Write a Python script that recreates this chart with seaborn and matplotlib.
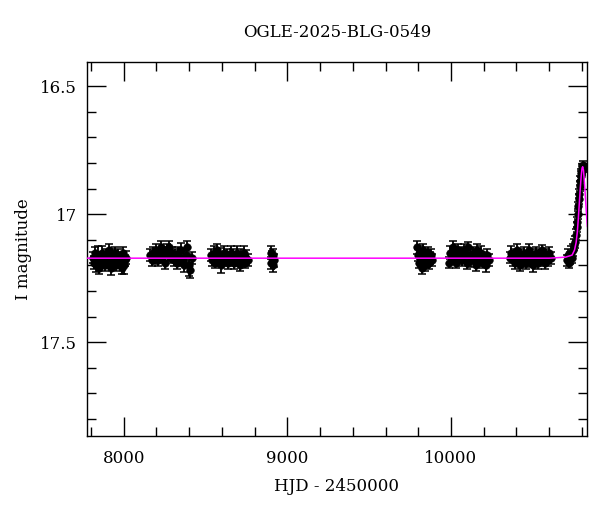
import numpy as np
import pandas as pd
import matplotlib
matplotlib.use("Agg")
import matplotlib.pyplot as plt
from matplotlib.ticker import MultipleLocator, FormatStrFormatter
import seaborn as sns

# --------------------------
# Photometry (HJD - 2450000, I mag, error)
# --------------------------
s1_hjd = [7812, 7818, 7825, 7831, 7838, 7844, 7851, 7857, 7864, 7870, 7877, 7883, 7890, 7896, 7903, 7909,
          7916, 7922, 7929, 7935, 7942, 7948, 7955, 7961, 7968, 7974, 7981, 7987, 7994, 8000, 8007, 8013]
s1_mag = [17.17, 17.19, 17.15, 17.20, 17.18, 17.16, 17.21, 17.17, 17.19, 17.15, 17.18, 17.20, 17.16, 17.19, 17.17, 17.14,
          17.18, 17.21, 17.16, 17.19, 17.17, 17.15, 17.20, 17.18, 17.16, 17.19, 17.17, 17.21, 17.15, 17.20, 17.18, 17.17]
s1_err = [0.022, 0.025, 0.021, 0.024, 0.023, 0.035, 0.022, 0.024, 0.021, 0.026, 0.023, 0.022, 0.025, 0.021, 0.024, 0.023,
          0.022, 0.027, 0.024, 0.021, 0.025, 0.023, 0.022, 0.026, 0.024, 0.021, 0.023, 0.025, 0.022, 0.035, 0.021, 0.026]

s2_hjd = [8163, 8172, 8181, 8190, 8199, 8208, 8217, 8226, 8235, 8244, 8253, 8262, 8271, 8280, 8289,
          8298, 8307, 8316, 8325, 8334, 8343, 8352, 8361, 8370, 8379, 8388, 8397, 8406, 8415]
s2_mag = [17.16, 17.18, 17.15, 17.17, 17.14, 17.18, 17.16, 17.13, 17.17, 17.15, 17.19, 17.14, 17.16, 17.13, 17.17,
          17.15, 17.18, 17.16, 17.19, 17.15, 17.17, 17.14, 17.18, 17.20, 17.16, 17.13, 17.20, 17.22, 17.17]
s2_err = [0.022, 0.024, 0.021, 0.025, 0.023, 0.022, 0.026, 0.024, 0.021, 0.023, 0.025, 0.022, 0.024, 0.027, 0.021,
          0.023, 0.022, 0.025, 0.024, 0.021, 0.023, 0.026, 0.022, 0.024, 0.023, 0.025, 0.040, 0.028, 0.024]

s3_hjd = [8533, 8541, 8549, 8557, 8565, 8573, 8581, 8589, 8597, 8605, 8613, 8621, 8629, 8637, 8645,
          8653, 8661, 8669, 8677, 8685, 8693, 8701, 8709, 8717, 8725, 8733, 8741, 8749, 8757]
s3_mag = [17.16, 17.18, 17.15, 17.19, 17.17, 17.14, 17.18, 17.16, 17.20, 17.17, 17.15, 17.18, 17.16, 17.19, 17.17,
          17.15, 17.18, 17.16, 17.19, 17.17, 17.15, 17.18, 17.20, 17.16, 17.18, 17.15, 17.19, 17.17, 17.18]
s3_err = [0.023, 0.022, 0.025, 0.021, 0.024, 0.023, 0.022, 0.026, 0.030, 0.022, 0.024, 0.021, 0.023, 0.025, 0.022,
          0.024, 0.021, 0.023, 0.026, 0.022, 0.024, 0.021, 0.023, 0.025, 0.022, 0.024, 0.021, 0.028, 0.023]

s4_hjd = [8898, 8902, 8906, 8910, 8914, 8918]
s4_mag = [17.15, 17.19, 17.17, 17.20, 17.16, 17.18]
s4_err = [0.025, 0.023, 0.026, 0.024, 0.022, 0.025]

s5_hjd = [9792, 9798, 9804, 9810, 9816, 9822, 9828, 9834, 9840, 9846, 9852, 9858, 9864, 9870, 9876, 9882]
s5_mag = [17.13, 17.16, 17.19, 17.15, 17.18, 17.21, 17.14, 17.17, 17.20, 17.16, 17.18, 17.15, 17.19, 17.17, 17.16, 17.18]
s5_err = [0.025, 0.023, 0.022, 0.024, 0.026, 0.025, 0.022, 0.024, 0.023, 0.021, 0.025, 0.022, 0.024, 0.023, 0.022, 0.024]

s6_hjd = [9988, 9997, 10006, 10015, 10024, 10033, 10042, 10051, 10060, 10069, 10078, 10087, 10096, 10105,
          10114, 10123, 10132, 10141, 10150, 10159, 10168, 10177, 10186, 10195, 10204, 10213, 10222, 10231]
s6_mag = [17.19, 17.15, 17.17, 17.13, 17.16, 17.19, 17.14, 17.17, 17.15, 17.18, 17.14, 17.16, 17.19, 17.13,
          17.16, 17.18, 17.15, 17.17, 17.20, 17.14, 17.16, 17.18, 17.15, 17.19, 17.17, 17.20, 17.16, 17.18]
s6_err = [0.022, 0.024, 0.021, 0.025, 0.023, 0.022, 0.024, 0.026, 0.021, 0.023, 0.025, 0.022, 0.024, 0.021,
          0.023, 0.025, 0.022, 0.024, 0.021, 0.023, 0.025, 0.022, 0.024, 0.021, 0.023, 0.025, 0.022, 0.024]

s7_hjd = [10358, 10367, 10376, 10385, 10394, 10403, 10412, 10421, 10430, 10439, 10448, 10457, 10466, 10475, 10484,
          10493, 10502, 10511, 10520, 10529, 10538, 10547, 10556, 10565, 10574, 10583, 10592, 10601, 10610]
s7_mag = [17.17, 17.15, 17.18, 17.16, 17.19, 17.14, 17.17, 17.20, 17.16, 17.18, 17.15, 17.19, 17.17, 17.14, 17.18,
          17.16, 17.20, 17.17, 17.15, 17.19, 17.16, 17.18, 17.14, 17.17, 17.19, 17.16, 17.18, 17.15, 17.17]
s7_err = [0.022, 0.024, 0.021, 0.023, 0.025, 0.022, 0.024, 0.021, 0.023, 0.025, 0.022, 0.024, 0.021, 0.023, 0.025,
          0.022, 0.024, 0.021, 0.023, 0.025, 0.022, 0.024, 0.021, 0.023, 0.025, 0.022, 0.024, 0.021, 0.023]

s8_hjd = [10712, 10718, 10724, 10730, 10736, 10742, 10748, 10754, 10760, 10765, 10769, 10772,
          10775, 10778, 10781, 10784, 10787, 10790, 10793, 10796, 10799, 10802, 10805, 10807]
s8_mag = [17.18, 17.16, 17.19, 17.17, 17.15, 17.17, 17.14, 17.12, 17.11, 17.08, 17.05, 17.03,
          17.00, 16.97, 16.94, 16.92, 16.89, 16.87, 16.85, 16.84, 16.83, 16.82, 16.81, 16.82]
s8_err = [0.022, 0.024, 0.021, 0.023, 0.025, 0.022, 0.024, 0.021, 0.023, 0.022, 0.021, 0.020,
          0.020, 0.019, 0.019, 0.018, 0.018, 0.017, 0.017, 0.017, 0.016, 0.016, 0.016, 0.016]

# model curve (magenta)
model_hjd = [7700, 10600, 10700, 10740, 10755, 10765, 10772, 10778, 10784, 10790, 10796, 10801, 10805,
             10810, 10816, 10822, 10828, 10834]
model_mag = [17.172, 17.172, 17.168, 17.16, 17.14, 17.11, 17.07, 17.02, 16.96, 16.90, 16.85, 16.82, 16.815,
             16.83, 16.88, 16.94, 17.00, 17.05]

title = "OGLE-2025-BLG-0549"

# --------------------------
# Build tables
# --------------------------
df = pd.DataFrame({
    "hjd": s1_hjd + s2_hjd + s3_hjd + s4_hjd + s5_hjd + s6_hjd + s7_hjd + s8_hjd,
    "mag": s1_mag + s2_mag + s3_mag + s4_mag + s5_mag + s6_mag + s7_mag + s8_mag,
    "err": s1_err + s2_err + s3_err + s4_err + s5_err + s6_err + s7_err + s8_err,
})
df_model = pd.DataFrame({"hjd": model_hjd, "mag": model_mag})

# --------------------------
# Plot
# --------------------------
sns.set_theme(style="ticks")
plt.rcParams["font.family"] = ["DejaVu Serif"]
plt.rcParams["text.color"] = "black"
plt.rcParams["axes.labelcolor"] = "black"

fig = plt.figure(figsize=(6, 5.12), dpi=100)
ax = fig.add_axes([0.145, 0.148, 0.833, 0.731])

ax.errorbar(df["hjd"], df["mag"], yerr=df["err"], fmt="none", ecolor="black",
            elinewidth=1.3, capsize=3.2, capthick=1.1, zorder=2)
sns.scatterplot(data=df, x="hjd", y="mag", ax=ax, color="black", s=30,
                edgecolor="black", linewidth=0.4, zorder=3, legend=False)
sns.lineplot(data=df_model, x="hjd", y="mag", ax=ax, color="magenta",
             linewidth=1.1, zorder=4, sort=False, estimator=None)

ax.set_xlim(7776, 10830)
ax.set_ylim(17.867, 16.406)

ax.xaxis.set_major_locator(MultipleLocator(1000))
ax.xaxis.set_minor_locator(MultipleLocator(200))
ax.yaxis.set_major_locator(MultipleLocator(0.5))
ax.yaxis.set_minor_locator(MultipleLocator(0.1))
ax.yaxis.set_major_formatter(FormatStrFormatter("%g"))

ax.tick_params(which="both", direction="in", top=True, right=True, colors="black",
               labelsize=12, width=1.0)
ax.tick_params(which="major", length=13.5)
ax.tick_params(which="minor", length=6.5)
ax.tick_params(axis="x", which="major", pad=10)
ax.tick_params(axis="y", which="major", pad=7)
for sp in ax.spines.values():
    sp.set_linewidth(1.0)
    sp.set_color("black")

ax.set_xlabel("HJD - 2450000", fontsize=12, labelpad=8)
ax.set_ylabel("I magnitude", fontsize=12, labelpad=6)
ax.set_title(title, fontsize=12, pad=18)

plt.savefig("out.png", dpi=100)
